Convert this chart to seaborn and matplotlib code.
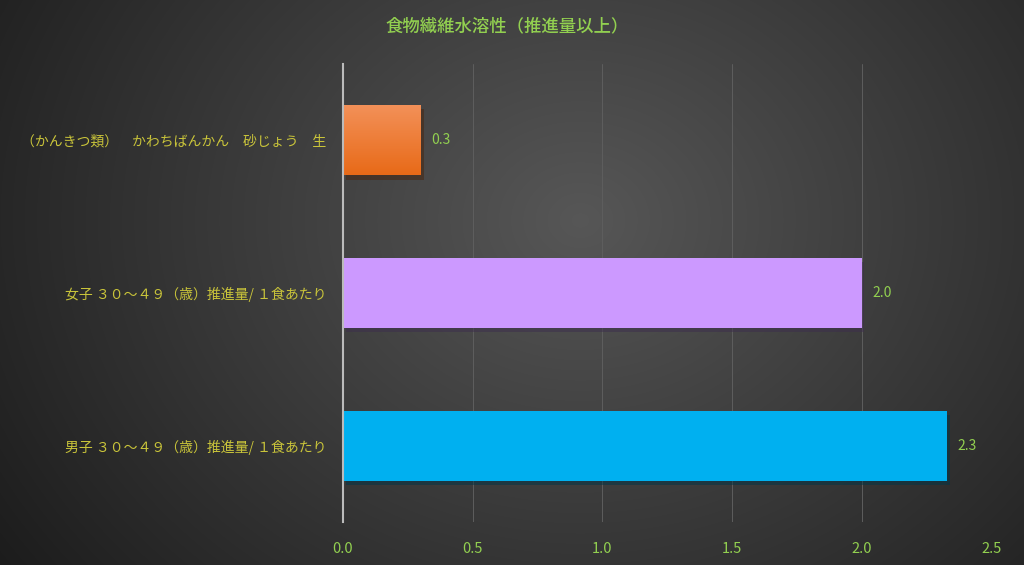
import numpy as np
import pandas as pd
import matplotlib
matplotlib.use("Agg")
import matplotlib.pyplot as plt
import matplotlib.patheffects as pe
import seaborn as sns

# data
categories = ["（かんきつ類）　かわちばんかん　砂じょう　生",
              "女子 ３０～４９（歳）推進量/ １食あたり",
              "男子 ３０～４９（歳）推進量/ １食あたり"]
values = [0.3, 2.0, 2.33]
bar_colors = ["#EE7A30", "#CC99FF", "#00B0F0"]
xticks = [0.0, 0.5, 1.0, 1.5, 2.0, 2.5]
title = "食物繊維水溶性（推進量以上）"

sns.set_style("dark")
plt.rcParams["font.family"] = ["Noto Sans CJK JP", "DejaVu Sans"]

fig = plt.figure(figsize=(10.24, 5.65), dpi=100)

# radial gradient background
bg = fig.add_axes([0, 0, 1, 1])
yy, xx = np.mgrid[0:565, 0:1024]
r = np.sqrt(((xx - 580) / 620) ** 2 + ((yy - 220) / 520) ** 2)
shade = np.clip(0.34 - 0.2 * r, 0.11, 0.34)
bg.imshow(np.dstack([shade, shade, shade]), aspect="auto", extent=[0, 1, 0, 1])
bg.axis("off")

ax = fig.add_axes([0.335, 0.076, 0.633, 0.811])
ax.set_facecolor("none")
df = pd.DataFrame({"label": categories, "value": values})
sns.barplot(data=df, y="label", x="value", hue="label", palette=bar_colors,
            orient="h", width=0.46, legend=False, ax=ax, saturation=1,
            linewidth=0, edgecolor="none")

for p in ax.patches:
    p.set_path_effects([pe.SimplePatchShadow(offset=(2, -3), alpha=0.5), pe.Normal()])

# orange bar gradient
p0 = ax.patches[0]
x0, y0 = p0.get_x(), p0.get_y()
grad = np.linspace(0, 1, 100)[:, None]
cmap = matplotlib.colors.LinearSegmentedColormap.from_list("o", ["#F39159", "#E86A18"])
im = ax.imshow(grad, cmap=cmap, aspect="auto",
               extent=[x0, x0 + p0.get_width(), y0 + p0.get_height(), y0], zorder=p0.get_zorder() + 0.1)
im.set_clip_path(p0)

for p, v in zip(ax.patches, values):
    ax.text(p.get_width() + 0.04, p.get_y() + p.get_height() / 2, f"{v:.1f}",
            va="center", ha="left", color="#92D050", fontsize=10)

ax.set_xlim(0, 2.5)
ax.set_ylim(2.5, -0.5)
ax.set_xticks(xticks)
ax.set_xticklabels([f"{t:.1f}" for t in xticks], color="#92D050", fontsize=10.5)
ax.tick_params(axis="x", length=0, pad=14)
ax.tick_params(axis="y", length=0, pad=12, labelcolor="#C9C43A", labelsize=10)
ax.set_xlabel("")
ax.set_ylabel("")
ax.grid(axis="x", color="#5E5E5E", linewidth=0.7)
ax.grid(axis="y", visible=False)
for s in ["top", "right", "bottom"]:
    ax.spines[s].set_visible(False)
ax.spines["left"].set_color("#BBBBBB")
ax.spines["left"].set_linewidth(1.5)
ax.set_axisbelow(True)

fig.text(0.495, 0.953, title, ha="center", va="center", color="#92D050",
         fontsize=12.5, fontweight="medium")

fig.savefig("out.png", dpi=100)
